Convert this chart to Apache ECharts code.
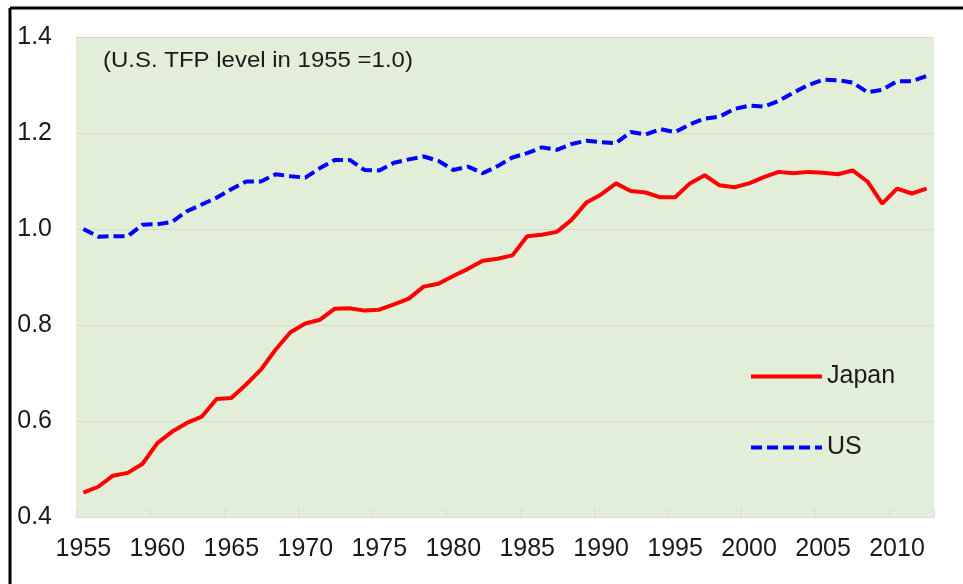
<!DOCTYPE html>
<html>
<head>
<meta charset="utf-8">
<script src="https://cdn.jsdelivr.net/npm/echarts@6/dist/echarts.min.js"></script>
<style>
html,body{margin:0;padding:0;background:#fff;}
#chart{width:963px;height:584px;}
</style>
</head>
<body>
<div id="chart"></div>
<script>
var years = [];
for (var y = 1955; y <= 2012; y++) years.push(String(y));

var japan = [0.451,0.463,0.486,0.492,0.511,0.554,0.578,0.596,0.609,0.646,
             0.648,0.676,0.707,0.749,0.785,0.803,0.811,0.834,0.835,0.830,
             0.832,0.843,0.855,0.880,0.886,0.902,0.917,0.934,0.938,0.945,
             0.985,0.988,0.994,1.019,1.055,1.072,1.095,1.079,1.076,1.066,
             1.066,1.095,1.112,1.091,1.087,1.095,1.108,1.119,1.116,1.119,
             1.117,1.114,1.122,1.099,1.053,1.084,1.074,1.084];

var us = [1.000,0.984,0.985,0.985,1.009,1.010,1.015,1.037,1.051,1.065,
          1.083,1.099,1.099,1.114,1.110,1.107,1.127,1.144,1.144,1.123,
          1.122,1.138,1.145,1.151,1.142,1.123,1.130,1.116,1.131,1.149,
          1.158,1.170,1.165,1.177,1.184,1.181,1.179,1.202,1.197,1.208,
          1.202,1.218,1.230,1.234,1.250,1.257,1.255,1.267,1.284,1.300,
          1.311,1.310,1.305,1.285,1.290,1.308,1.308,1.319];

var yTicks = [0.4, 0.6, 0.8, 1.0, 1.2, 1.4];
var note = '(U.S. TFP level in 1955 =1.0)';

var chart = echarts.init(document.getElementById('chart'), null, {renderer: 'canvas'});
var font = 'Liberation Sans, Arial, sans-serif';
chart.setOption({
  animation: false,
  backgroundColor: '#ffffff',
  grid: {left: 76, right: 29, top: 37, bottom: 67, show: true, backgroundColor: '#E2EED8', borderWidth: 0},
  xAxis: {
    type: 'category',
    data: years,
    boundaryGap: true,
    axisLine: {show: true, lineStyle: {color: '#D9D9D9', width: 1}},
    axisTick: {show: true, inside: true, length: 8, interval: 4, lineStyle: {color: '#D9D9D9'}},
    axisLabel: {interval: 4, margin: 20, color: '#1a1a1a', fontSize: 25, fontFamily: font},
    splitLine: {show: false}
  },
  yAxis: {
    type: 'value',
    min: yTicks[0], max: yTicks[yTicks.length - 1], interval: 0.2,
    axisLine: {show: false},
    axisTick: {show: false},
    axisLabel: {margin: 24, color: '#1a1a1a', fontSize: 25, fontFamily: font,
      formatter: function (v) { return v.toFixed(1); }},
    splitLine: {show: true, lineStyle: {color: '#D9D9D9', width: 1}}
  },
  legend: {
    orient: 'vertical',
    left: 744, top: 359,
    itemWidth: 71, itemHeight: 14,
    itemGap: 46,
    itemStyle: {opacity: 0},
    lineStyle: {width: 4},
    textStyle: {fontSize: 25, color: '#1a1a1a', fontFamily: font},
    data: ['Japan', 'US']
  },
  graphic: [
    {type: 'text', x: 103, y: 50, scaleX: 1.09, style: {text: note, fontSize: 22, fontFamily: font, fill: '#1a1a1a'}},
    {type: 'line', shape: {x1: 10, y1: 8, x2: 963, y2: 8}, style: {stroke: '#000', lineWidth: 3}},
    {type: 'line', shape: {x1: 10, y1: 8, x2: 10, y2: 584}, style: {stroke: '#000', lineWidth: 3}}
  ],
  series: [
    {name: 'Japan', type: 'line', data: japan, symbol: 'none', smooth: false,
     lineStyle: {color: '#FF0000', width: 4}, itemStyle: {color: '#FF0000'}},
    {name: 'US', type: 'line', data: us, symbol: 'none', smooth: false,
     lineStyle: {color: '#0000FF', width: 4, type: [11, 5]}, itemStyle: {color: '#0000FF'}}
  ]
});
</script>
</body>
</html>
